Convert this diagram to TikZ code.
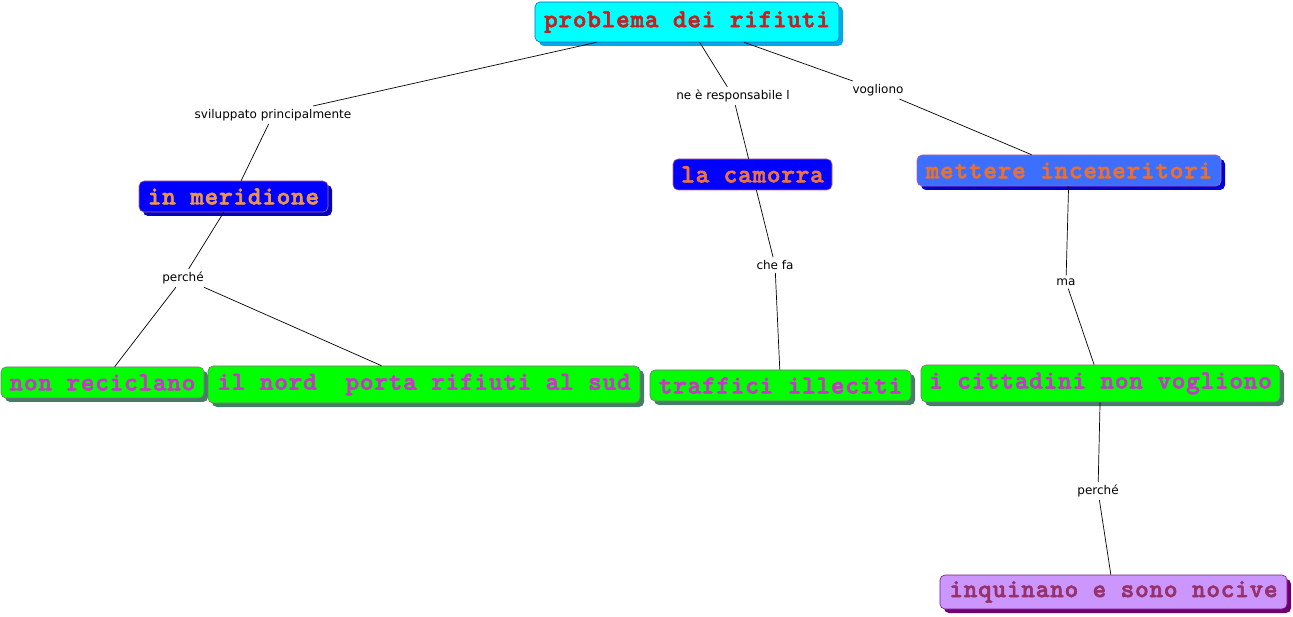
\documentclass[tikz,border=0pt]{standalone}
\usepackage{fontspec}
\newfontfamily\courfont{lmmonolt10-bold.otf}[LetterSpace=2.9,FakeBold=2.2]
\newfontfamily\lblfont{DejaVu Sans}
\usetikzlibrary{shadows}
\definecolor{cyanfill}{RGB}{0,255,255}
\definecolor{cyanshadow}{RGB}{0,170,230}
\definecolor{cyanborder}{RGB}{0,110,210}
\definecolor{redtext}{RGB}{200,30,30}
\definecolor{bluefill}{RGB}{0,0,255}
\definecolor{blueshadow}{RGB}{0,0,190}
\definecolor{blueborder}{RGB}{190,100,150}
\definecolor{oranget}{RGB}{235,150,70}
\definecolor{orangecam}{RGB}{240,115,60}
\definecolor{orangemet}{RGB}{232,112,48}
\definecolor{lbluefill}{RGB}{60,110,255}
\definecolor{lblueshadow}{RGB}{0,0,210}
\definecolor{greenfill}{RGB}{0,255,0}
\definecolor{greenshadow}{RGB}{70,125,100}
\definecolor{greenborder}{RGB}{150,100,150}
\definecolor{magtext}{RGB}{204,51,204}
\definecolor{purfill}{RGB}{204,150,255}
\definecolor{purshadow}{RGB}{110,0,110}
\definecolor{purborder}{RGB}{130,20,130}
\definecolor{purtext}{RGB}{150,50,105}
\tikzset{
  concept/.style={rounded corners=5pt, inner sep=0pt, line width=0.6pt,
    font=\courfont\fontsize{26}{26}\selectfont},
  shad/.style={general shadow={fill=#1, shadow xshift=4pt, shadow yshift=-4pt}},
  cyanbox/.style={concept, shad=cyanshadow, fill=cyanfill, draw=cyanborder, text=redtext},
  bluebox/.style={concept, shad=blueshadow, fill=bluefill, draw=blueborder, text=oranget},
  camobox/.style={concept, fill=bluefill, draw=blueborder, text=orangecam},
  lbluebox/.style={concept, shad=lblueshadow, fill=lbluefill, draw=blueborder, text=orangemet},
  greenbox/.style={concept, shad=greenshadow, fill=greenfill, draw=greenborder, text=magtext},
  purbox/.style={concept, shad=purshadow, fill=purfill, draw=purborder, text=purtext},
  lbl/.style={font=\lblfont\fontsize{12}{14}\selectfont, inner sep=3pt},
  conn/.style={draw=black, line width=0.7pt},
}
\begin{document}
\begin{tikzpicture}[x=1pt,y=-1pt]
\useasboundingbox[fill=white] (0,0) rectangle (1293,617);
% concepts
\node[cyanbox, minimum width=304pt, minimum height=40pt] (top) at (687,22) {problema dei rifiuti};
\node[bluebox, minimum width=189pt, minimum height=31pt] (mer) at (233.5,196.5) {in meridione};
\node[camobox, minimum width=159pt, minimum height=31pt] (cam) at (752.5,174.5) {la camorra};
\node[lbluebox, minimum width=304pt, minimum height=31pt] (met) at (1069,170.5) {mettere inceneritori};
\node[greenbox, minimum width=203pt, minimum height=31pt] (ric) at (102.5,382.5) {non reciclano};
\node[greenbox, minimum width=432pt, minimum height=37pt] (nord) at (424,384.5) {il nord\ \ porta rifiuti al sud};
\node[greenbox, minimum width=261pt, minimum height=31pt] (traf) at (780.5,385.5) {traffici illeciti};
\node[greenbox, minimum width=359pt, minimum height=37pt] (citt) at (1100.5,383.5) {i cittadini non vogliono};
\node[purbox, minimum width=347pt, minimum height=34pt] (inq) at (1113.5,592) {inquinano e sono nocive};
% labels
\node[lbl] (l1) at (273,115) {sviluppato principalmente};
\node[lbl] (l2) at (733,96) {ne è responsabile l};
\node[lbl] (l3) at (878,90) {vogliono};
\node[lbl] (l4) at (183,278) {perché};
\node[lbl] (l5) at (775,265) {che fa};
\node[lbl] (l6) at (1066,282) {ma};
\node[lbl] (l7) at (1098,491) {perché};
% connectors
\draw[conn] (top) -- (l1);
\draw[conn] (l1) -- (mer);
\draw[conn] (top) -- (l2);
\draw[conn] (l2) -- (cam);
\draw[conn] (top) -- (l3);
\draw[conn] (l3) -- (met);
\draw[conn] (mer) -- (l4);
\draw[conn] (l4) -- (ric);
\draw[conn] (l4) -- (nord);
\draw[conn] (cam) -- (l5);
\draw[conn] (l5) -- (traf);
\draw[conn] (met) -- (l6);
\draw[conn] (l6) -- (citt);
\draw[conn] (citt) -- (l7);
\draw[conn] (l7) -- (inq);
\end{tikzpicture}
\end{document}
